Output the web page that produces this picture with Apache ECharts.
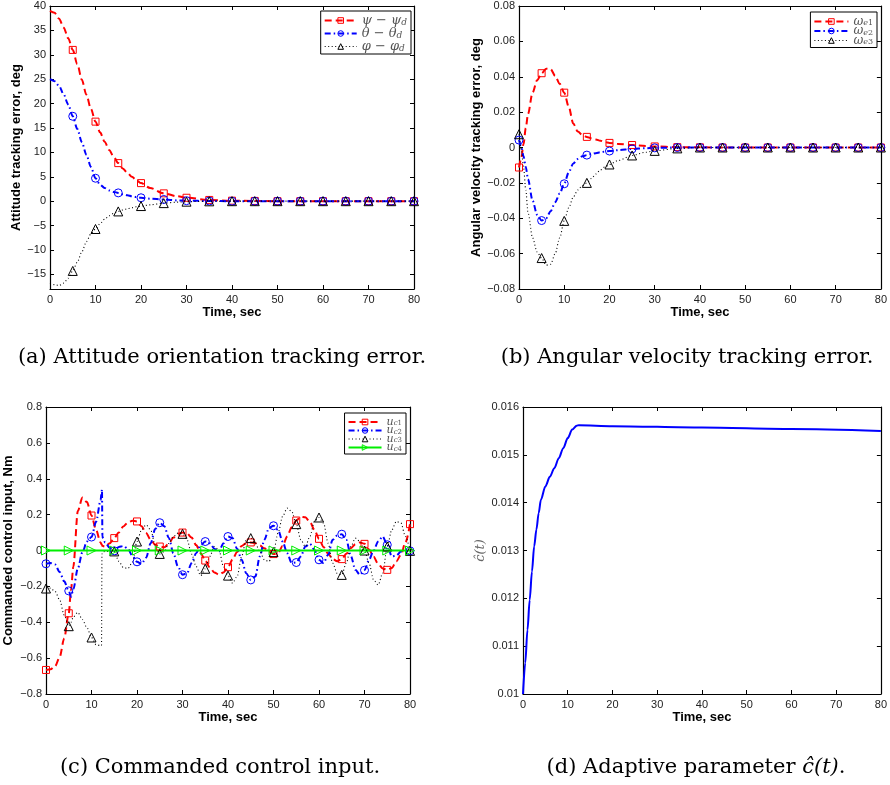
<!DOCTYPE html>
<html>
<head>
<meta charset="utf-8">
<script src="https://cdn.jsdelivr.net/npm/echarts@6/dist/echarts.min.js"></script>
<style>
html,body{margin:0;padding:0;background:#fff;}
#c{width:890px;height:785px;}
</style>
</head>
<body>
<div id="c"></div>
<script>
// ---------- (a) Attitude tracking error ----------
const tA = [0,1,2,3,4,5,6,7,8,9,10,11,12,13,14,15,16,17,18,19,20,22,25,28,30,35,40,45,50,55,60,65,70,75,80];
const psiErr   = [39,38.6,37.4,35.6,33.4,31,28.1,24.9,21.8,18.9,16.3,14.1,12.2,10.5,9.1,7.8,6.7,5.8,5.0,4.3,3.7,2.7,1.6,1.0,0.7,0.25,0.1,0.05,0,0,0,0,0,0,0];
const thetaErr = [25,24.6,23.6,21.9,19.8,17.4,14.8,12.1,9.5,7.0,4.7,3.4,2.7,2.2,1.9,1.7,1.4,1.2,1.0,0.85,0.7,0.5,0.35,0.15,0.1,0.03,0,0,0,0,0,0,0,0,0];
const phiErr   = [-16.8,-17.1,-17.3,-16.8,-15.8,-14.3,-12.5,-10.4,-8.3,-6.7,-5.7,-4.6,-3.7,-3.0,-2.5,-2.1,-1.8,-1.55,-1.35,-1.15,-1.0,-0.75,-0.4,-0.2,-0.1,-0.03,0,0,0,0,0,0,0,0,0];
const yTicksA = [-15,-10,-5,0,5,10,15,20,25,30,35,40];

// ---------- (b) Angular velocity tracking error ----------
const tB = [0,0.5,1,1.5,2,3,4,5,6,7,8,9,10,11,12,13,14,15,16,17,18,19,20,22,25,28,30,35,40,45,50,55,60,65,70,75,80];
const we1 = [-0.0113,-0.006,0.002,0.011,0.019,0.031,0.038,0.042,0.0445,0.0443,0.0405,0.036,0.031,0.023,0.0135,0.009,0.0072,0.006,0.0052,0.0045,0.0038,0.0031,0.0026,0.002,0.0014,0.0009,0.0006,0.0002,0.0001,0,0,0,0,0,0,0,0];
const we2 = [0.0042,0.001,-0.005,-0.011,-0.018,-0.030,-0.038,-0.0413,-0.040,-0.036,-0.031,-0.026,-0.0205,-0.014,-0.009,-0.0065,-0.005,-0.0043,-0.0037,-0.0032,-0.0027,-0.0023,-0.002,-0.0015,-0.0008,-0.0004,-0.0002,0,0,0,0,0,0,0,0,0,0];
const we3 = [0.0075,-0.001,-0.011,-0.024,-0.037,-0.051,-0.059,-0.0625,-0.0665,-0.066,-0.060,-0.051,-0.0415,-0.034,-0.028,-0.024,-0.0215,-0.020,-0.0175,-0.015,-0.0127,-0.011,-0.0096,-0.0073,-0.0045,-0.0027,-0.0019,-0.0005,0,0,0,0,0,0,0,0,0];

// ---------- (c) Commanded control input ----------
const tC = [0,1,2,3,4,5,5.5,6,7,8,9,10,11,12,12.2,12.3,12.4,12.5,13,14,15,16,17,18,19,20,21,22,23,24,25,26,27,28,29,30,31,32,33,34,35,36,37,38,39,40,41,42,43,44,45,46,47,48,49,50,51,52,53,54,55,56,57,58,59,60,61,62,63,64,65,66,67,68,69,70,71,72,73,74,75,76,77,78,79,80];
const uc1 = [-0.666,-0.662,-0.645,-0.595,-0.49,-0.35,-0.22,-0.09,0.22,0.295,0.27,0.195,0.115,0.045,0.035,0.03,0.026,0.023,0.022,0.04,0.069,0.1,0.134,0.156,0.166,0.162,0.135,0.097,0.06,0.032,0.022,0.018,0.04,0.072,0.093,0.1,0.095,0.072,0.03,-0.015,-0.056,-0.095,-0.122,-0.135,-0.122,-0.093,-0.05,-0.008,0.025,0.041,0.045,0.041,0.028,0.012,-0.006,-0.02,-0.015,0.025,0.078,0.13,0.167,0.188,0.185,0.16,0.115,0.065,0.02,-0.018,-0.047,-0.06,-0.048,-0.018,0.013,0.035,0.045,0.037,0.005,-0.035,-0.075,-0.1,-0.108,-0.098,-0.06,-0.025,0.045,0.147];
const uc2 = [-0.074,-0.07,-0.078,-0.12,-0.172,-0.225,-0.258,-0.215,-0.1,-0.01,0.05,0.075,0.16,0.28,0.32,0.34,0.08,0.07,0.045,0.015,-0.002,0.02,0.025,0.01,-0.03,-0.063,-0.075,-0.04,0.04,0.12,0.155,0.135,0.07,-0.015,-0.09,-0.135,-0.127,-0.07,-0.015,0.03,0.05,0.041,0.01,-0.006,0.04,0.078,0.069,0.01,-0.052,-0.127,-0.164,-0.145,-0.033,0.06,0.125,0.138,0.115,0.05,-0.015,-0.07,-0.067,-0.033,0.022,0.037,0.004,-0.052,-0.07,-0.024,0.06,0.084,0.091,0.06,-0.03,-0.108,-0.136,-0.11,-0.052,0.0,0.05,0.078,0.032,-0.033,-0.028,-0.006,-0.002,-0.002];
const uc3 = [-0.212,-0.21,-0.228,-0.275,-0.36,-0.422,-0.4,-0.37,-0.345,-0.385,-0.43,-0.485,-0.525,-0.53,-0.53,-0.02,-0.01,-0.008,-0.005,-0.005,-0.005,-0.06,-0.095,-0.1,-0.065,0.05,0.115,0.143,0.115,0.03,-0.019,-0.006,0.04,0.078,0.097,0.093,0.06,-0.02,-0.089,-0.14,-0.102,-0.033,0.022,0.004,-0.089,-0.14,-0.182,-0.145,-0.033,0.06,0.069,0.041,-0.006,-0.052,-0.061,-0.009,0.097,0.19,0.236,0.218,0.147,0.06,0.022,0.078,0.162,0.184,0.153,0.041,-0.07,-0.127,-0.136,-0.07,0.022,0.069,0.05,0.0,-0.07,-0.164,-0.192,-0.127,0.022,0.115,0.162,0.153,0.078,-0.002];
const uc4 = tC.map(() => 0);

// ---------- (d) Adaptive parameter ----------
const tD = [0,0.5,1,1.5,2,2.5,3,3.5,4,5,6,7,8,9,10,11,12,12.5,20,40,60,80];
const cHat = [0.01,0.01065,0.01134,0.01197,0.01256,0.01309,0.01344,0.01378,0.01406,0.01434,0.01454,0.01472,0.01493,0.01514,0.01535,0.01553,0.01561,0.01562,0.0156,0.01557,0.01554,0.0155];

// ---------- captions ----------
const captions = ['(a) Attitude orientation tracking error.', '(b) Angular velocity tracking error.', '(c) Commanded control input.', '(d) Adaptive parameter {i|ĉ(t)}.'];
const yNames = ['Attitude tracking error, deg', 'Angular velocity tracking error, deg', 'Commanded control input, Nm', 'ĉ(t)'];

// ================= layout / styles =================
const SANS = '"Liberation Sans", Arial, Helvetica, sans-serif';
const SERIF = '"DejaVu Serif", serif';
const grids = [
  {left: 50,  top: 6,   width: 364, height: 283},
  {left: 519, top: 6,   width: 364, height: 283},
  {left: 46,  top: 407, width: 364, height: 287},
  {left: 523, top: 407, width: 364, height: 287}
];
const yRanges = [
  {min: -18, max: 40, interval: 5, custom: yTicksA},
  {min: -0.08, max: 0.08, interval: 0.02},
  {min: -0.8, max: 0.8, interval: 0.2},
  {min: 0.01, max: 0.016, interval: 0.001}
];
const yNameGap = [27, 36, 31, 35];
const xNameGap = [17, 17, 17, 17];

function fmt(v) {
  const s = String(parseFloat(Number(v).toFixed(6)));
  return s.replace('-', '\u2212');
}

const xAxis = [], yAxis = [];
grids.forEach((g, i) => {
  const tick = {show: true, inside: true, length: 4, lineStyle: {color: '#000', width: 1}};
  const line = {show: true, onZero: false, lineStyle: {color: '#000', width: 1.2}};
  xAxis.push({
    type: 'value', gridIndex: i, min: 0, max: 80, interval: 10, position: 'bottom',
    axisLine: line, axisTick: tick, splitLine: {show: false},
    axisLabel: {margin: 5, color: '#222', fontFamily: SANS, fontSize: 11, showMinLabel: true, showMaxLabel: true},
    name: 'Time, sec', nameLocation: 'middle', nameGap: xNameGap[i],
    nameTextStyle: {fontFamily: SANS, fontWeight: 'bold', fontSize: 13, color: '#000'}
  });
  xAxis.push({
    type: 'value', gridIndex: i, min: 0, max: 80, interval: 10, position: 'top',
    axisLine: line, axisTick: tick, splitLine: {show: false}, axisLabel: {show: false}
  });
  const r = yRanges[i];
  const yl = {
    type: 'value', gridIndex: i, min: r.min, max: r.max, interval: r.interval, position: 'left',
    axisLine: line, axisTick: Object.assign({}, tick), splitLine: {show: false},
    axisLabel: {margin: 4, color: '#222', fontFamily: SANS, fontSize: 11, showMinLabel: true, showMaxLabel: true, formatter: fmt},
    name: yNames[i], nameLocation: 'middle', nameGap: yNameGap[i], nameRotate: 90,
    nameTextStyle: i === 3
      ? {fontFamily: SERIF, fontStyle: 'italic', fontSize: 13, color: '#666'}
      : {fontFamily: SANS, fontWeight: 'bold', fontSize: 13, color: '#000'}
  };
  const yr = {
    type: 'value', gridIndex: i, min: r.min, max: r.max, interval: r.interval, position: 'right',
    axisLine: line, axisTick: Object.assign({}, tick), splitLine: {show: false}, axisLabel: {show: false}
  };
  if (r.custom) {
    yl.axisLabel.customValues = r.custom;
    yl.axisTick.customValues = r.custom;
    yr.axisTick.customValues = r.custom;
    yr.axisLabel.customValues = r.custom;
  }
  yAxis.push(yl, yr);
});

const RED = '#ff0000', BLUE = '#0000ff', BLACK = '#000000', GREEN = '#00ee00';
const STY = {
  red:   {color: RED,   width: 2,   type: [7, 4],          symbol: 'rect',     size: 7, rot: 0},
  blue:  {color: BLUE,  width: 2,   type: [6, 3, 1.5, 3],  symbol: 'circle',   size: 8, rot: 0},
  black: {color: BLACK, width: 1.1, type: [1, 2.5],        symbol: 'triangle', size: 9, rot: 0},
  green: {color: GREEN, width: 2,   type: 'solid',         symbol: 'triangle', size: 9, rot: -90},
  solidBlue: {color: BLUE, width: 2, type: 'solid',        symbol: 'none',     size: 0, rot: 0}
};

function mkSeries(name, t, v, g, sty, firstMark) {
  const s = STY[sty];
  const data = t.map((x, i) => {
    const mark = s.symbol !== 'none' && x % 5 === 0 && x >= firstMark;
    return mark ? {value: [x, v[i]]} : {value: [x, v[i]], symbol: 'none'};
  });
  return {
    type: 'line', name: name, xAxisIndex: 2 * g, yAxisIndex: 2 * g, data: data,
    symbol: s.symbol, symbolSize: s.size, symbolRotate: s.rot, showSymbol: true, showAllSymbol: true,
    smooth: 0.3, smoothMonotone: 'x', clip: false,
    lineStyle: {color: s.color, width: s.width, type: s.type},
    itemStyle: {color: 'rgba(0,0,0,0)', borderColor: s.color, borderWidth: 1},
    emphasis: {disabled: true}, silent: true
  };
}

const series = [
  mkSeries('psi', tA, psiErr, 0, 'red', 5),
  mkSeries('theta', tA, thetaErr, 0, 'blue', 5),
  mkSeries('phi', tA, phiErr, 0, 'black', 5),
  mkSeries('we1', tB, we1, 1, 'red', 0),
  mkSeries('we2', tB, we2, 1, 'blue', 0),
  mkSeries('we3', tB, we3, 1, 'black', 0),
  mkSeries('uc1', tC, uc1, 2, 'red', 0),
  mkSeries('uc2', tC, uc2, 2, 'blue', 0),
  mkSeries('uc3', tC, uc3, 2, 'black', 0),
  mkSeries('uc4', tC, uc4, 2, 'green', 0),
  mkSeries('chat', tD, cHat, 3, 'solidBlue', 0)
];

const labels = {
  psi: '{g|ψ}{m| − }{g|ψ}{s|d}', theta: '{g|θ}{m| − }{g|θ}{s|d}', phi: '{g|φ}{m| − }{g|φ}{s|d}',
  we1: '{g|ω}{s|e}{n|1}', we2: '{g|ω}{s|e}{n|2}', we3: '{g|ω}{s|e}{n|3}',
  uc1: '{g|u}{s|c}{n|1}', uc2: '{g|u}{s|c}{n|2}', uc3: '{g|u}{s|c}{n|3}', uc4: '{g|u}{s|c}{n|4}'
};
const lw = {psi: 2, theta: 2, phi: 1.1, we1: 2, we2: 2, we3: 1.1, uc1: 2, uc2: 2, uc3: 1.1, uc4: 2};

function mkLegend(names, right, top, fs, rowH, iw, gap) {
  const sub = fs - 4;
  const P = 6;
  const ls = rowH - P;
  return {
    orient: 'vertical', right: right, top: top, itemWidth: iw, itemHeight: 7, itemGap: gap,
    padding: [1, 4, 1, 3], borderColor: '#000', borderWidth: 1, backgroundColor: '#fff',
    selectedMode: false, align: 'left',
    data: names.map(n => ({name: n, lineStyle: {width: lw[n]}, itemStyle: {borderWidth: 1}})),
    formatter: n => labels[n],
    textStyle: {
      fontFamily: SERIF, fontSize: fs, color: '#555', lineHeight: rowH,
      rich: {
        g: {fontFamily: SERIF, fontStyle: 'italic', fontSize: fs, color: '#555', lineHeight: rowH},
        m: {fontFamily: SERIF, fontSize: fs, color: '#555', lineHeight: rowH},
        s: {fontFamily: SERIF, fontStyle: 'italic', fontSize: sub, color: '#555', lineHeight: ls, verticalAlign: 'bottom', padding: [P, 0, 0, 0]},
        n: {fontFamily: SERIF, fontSize: sub, color: '#555', lineHeight: ls, verticalAlign: 'bottom', padding: [P, 0, 0, 0]}
      }
    }
  };
}

const legend = [
  mkLegend(['psi', 'theta', 'phi'], 890 - 411, 11, 13, 13, 32, -2),
  mkLegend(['we1', 'we2', 'we3'], 890 - 877, 12, 12, 11, 34, -5),
  mkLegend(['uc1', 'uc2', 'uc3', 'uc4'], 890 - 406, 413, 11, 10, 33, -5)
];

const capPos = [[222, 358], [687, 358], [220, 768], [696, 768]];
const CAPFS = 21;
const graphic = captions.map((c, i) => ({
  type: 'text', x: capPos[i][0], y: capPos[i][1], silent: true,
  style: {
    text: c, fontFamily: SERIF, fontSize: CAPFS, fill: '#000', align: 'center', verticalAlign: 'middle',
    rich: {i: {fontFamily: SERIF, fontStyle: 'italic', fontSize: CAPFS, fill: '#000'}}
  }
}));

const chart = echarts.init(document.getElementById('c'), null, {renderer: 'canvas'});
chart.setOption({
  animation: false,
  backgroundColor: '#fff',
  grid: grids.map(g => Object.assign({containLabel: false, show: false}, g)),
  xAxis: xAxis, yAxis: yAxis, legend: legend, series: series, graphic: graphic
});
</script>
</body>
</html>
